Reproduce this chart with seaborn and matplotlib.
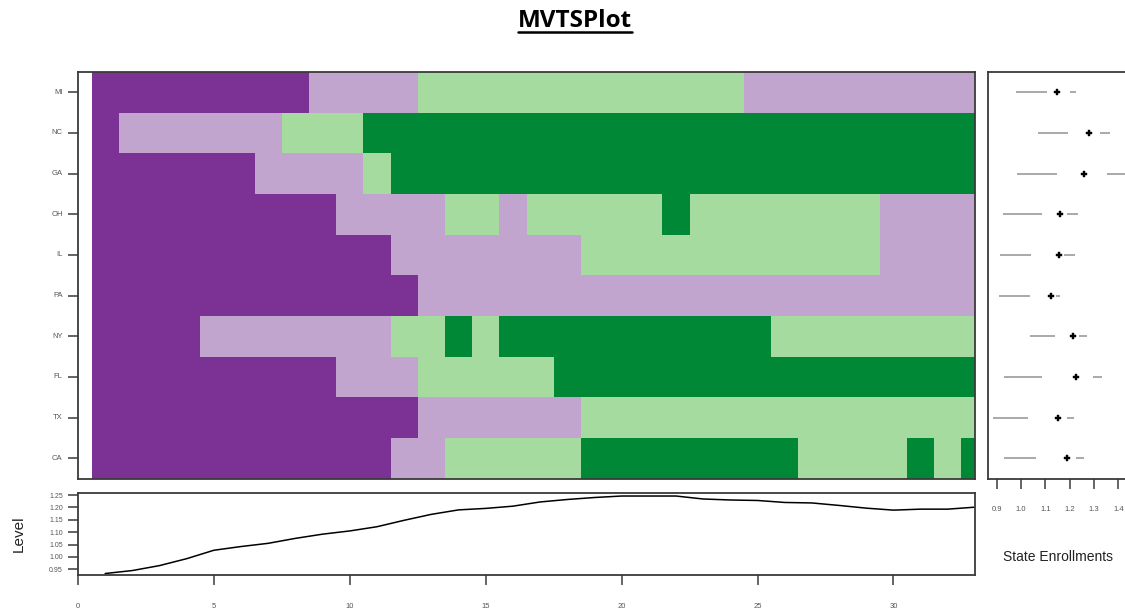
import matplotlib
matplotlib.use("Agg")
import matplotlib.pyplot as plt
from matplotlib.colors import ListedColormap
from matplotlib.lines import Line2D
import pandas as pd
import seaborn as sns

# ---- data ---------------------------------------------------------------
states = ["MI", "NC", "GA", "OH", "IL", "PA", "NY", "FL", "TX", "CA"]
time_points = list(range(1, 34))

# enrollment category per state and time step (1 = low ... 4 = high)
cat_mi = [1, 1, 1, 1, 1, 1, 1, 1, 2, 2, 2, 2, 3, 3, 3, 3, 3, 3, 3, 3, 3, 3, 3, 3,
          2, 2, 2, 2, 2, 2, 2, 2, 2]
cat_nc = [1, 2, 2, 2, 2, 2, 2, 3, 3, 3, 4, 4, 4, 4, 4, 4, 4, 4, 4, 4, 4, 4, 4, 4,
          4, 4, 4, 4, 4, 4, 4, 4, 4]
cat_ga = [1, 1, 1, 1, 1, 1, 2, 2, 2, 2, 3, 4, 4, 4, 4, 4, 4, 4, 4, 4, 4, 4, 4, 4,
          4, 4, 4, 4, 4, 4, 4, 4, 4]
cat_oh = [1, 1, 1, 1, 1, 1, 1, 1, 1, 2, 2, 2, 2, 3, 3, 2, 3, 3, 3, 3, 3, 4, 3, 3,
          3, 3, 3, 3, 3, 2, 2, 2, 2]
cat_il = [1, 1, 1, 1, 1, 1, 1, 1, 1, 1, 1, 2, 2, 2, 2, 2, 2, 2, 3, 3, 3, 3, 3, 3,
          3, 3, 3, 3, 3, 2, 2, 2, 2]
cat_pa = [1, 1, 1, 1, 1, 1, 1, 1, 1, 1, 1, 1, 2, 2, 2, 2, 2, 2, 2, 2, 2, 2, 2, 2,
          2, 2, 2, 2, 2, 2, 2, 2, 2]
cat_ny = [1, 1, 1, 1, 2, 2, 2, 2, 2, 2, 2, 3, 3, 4, 3, 4, 4, 4, 4, 4, 4, 4, 4, 4,
          4, 3, 3, 3, 3, 3, 3, 3, 3]
cat_fl = [1, 1, 1, 1, 1, 1, 1, 1, 1, 2, 2, 2, 3, 3, 3, 3, 3, 4, 4, 4, 4, 4, 4, 4,
          4, 4, 4, 4, 4, 4, 4, 4, 4]
cat_tx = [1, 1, 1, 1, 1, 1, 1, 1, 1, 1, 1, 1, 2, 2, 2, 2, 2, 2, 3, 3, 3, 3, 3, 3,
          3, 3, 3, 3, 3, 3, 3, 3, 3]
cat_ca = [1, 1, 1, 1, 1, 1, 1, 1, 1, 1, 1, 2, 2, 3, 3, 3, 3, 3, 4, 4, 4, 4, 4, 4,
          4, 4, 3, 3, 3, 3, 4, 3, 4]

# overall level across states at each time step
level = [0.933, 0.945, 0.965, 0.993, 1.027, 1.042, 1.055, 1.075, 1.092, 1.105,
         1.122, 1.148, 1.172, 1.190, 1.196, 1.205, 1.222, 1.232, 1.240, 1.246,
         1.246, 1.246, 1.234, 1.230, 1.228, 1.220, 1.218, 1.208, 1.197, 1.189,
         1.193, 1.193, 1.201]

# per-state summary: min, lower quartile, median, upper quartile, max
state_min = [0.981, 1.070, 0.982, 0.925, 0.914, 0.908, 1.036, 0.930, 0.886, 0.930]
state_q1 = [1.109, 1.193, 1.150, 1.087, 1.043, 1.036, 1.139, 1.087, 1.031, 1.060]
state_median = [1.147, 1.281, 1.259, 1.162, 1.157, 1.123, 1.214, 1.225, 1.151, 1.191]
state_q3 = [1.200, 1.323, 1.352, 1.189, 1.177, 1.144, 1.239, 1.296, 1.189, 1.228]
state_max = [1.228, 1.364, 1.430, 1.234, 1.224, 1.161, 1.273, 1.334, 1.218, 1.258]

palette = ["#7B3294", "#C2A5CF", "#A6DBA0", "#008837"]

# ---- style --------------------------------------------------------------
sns.set_theme(style="white")
plt.rcParams["font.family"] = ["Liberation Sans", "DejaVu Sans"]

W, H = 1125, 611
fig = plt.figure(figsize=(W / 100, H / 100), dpi=100)


def px_box(left, top, right, bottom):
    return [left / W, 1 - bottom / H, (right - left) / W, (bottom - top) / H]


ax_hm = fig.add_axes(px_box(78, 72, 975, 478.5))
ax_lv = fig.add_axes(px_box(78, 493.3, 975, 575))
ax_st = fig.add_axes(px_box(988.3, 72, 1131, 478.5))

spine_color = "#3a3a3a"
tick_text = "#555555"


def frame(ax):
    for sp in ax.spines.values():
        sp.set_visible(True)
        sp.set_color(spine_color)
        sp.set_linewidth(1.3)


# ---- heatmap of categories ------------------------------------------------
grid = pd.DataFrame([cat_mi, cat_nc, cat_ga, cat_oh, cat_il, cat_pa,
                     cat_ny, cat_fl, cat_tx, cat_ca],
                    index=states, columns=time_points)
sns.heatmap(grid, ax=ax_hm, cmap=ListedColormap(palette), vmin=0.5, vmax=4.5,
            cbar=False, xticklabels=False, yticklabels=states)
# columns are centred on their time step, axis spans time 0..33
ax_hm.set_xlim(-0.5, 32.5)
ax_hm.set_ylim(len(states), 0)
ax_hm.set_ylabel("")
ax_hm.set_xlabel("")
ax_hm.set_yticklabels(states, rotation=0, fontsize=5.5, color=tick_text)
ax_hm.tick_params(axis="y", left=True, length=7, width=1.1, color=spine_color, pad=4)
ax_hm.tick_params(axis="x", bottom=False)
frame(ax_hm)

# ---- level line ---------------------------------------------------------
sns.lineplot(x=time_points, y=level, ax=ax_lv, color="black", linewidth=1.1)
ax_lv.set_xlim(0, 33)
ax_lv.set_ylim(0.927, 1.257)
ax_lv.set_xticks([0, 5, 10, 15, 20, 25, 30])
ax_lv.set_xticklabels(["0", "5", "10", "15", "20", "25", "30"], fontsize=5.5, color=tick_text)
yt = [0.95, 1.00, 1.05, 1.10, 1.15, 1.20, 1.25]
ax_lv.set_yticks(yt)
ax_lv.set_yticklabels([f"{v:.2f}" for v in yt], fontsize=5, color=tick_text)
ax_lv.tick_params(axis="x", bottom=True, length=7, width=1.1, color=spine_color, pad=13)
ax_lv.tick_params(axis="y", left=True, length=7, width=1.1, color=spine_color, pad=4)
ax_lv.set_ylabel("Level", fontsize=11, color="#222222")
ax_lv.yaxis.set_label_coords(-0.058, 0.5)
frame(ax_lv)

# ---- per-state summaries ----------------------------------------------------
rows = list(range(len(states)))
ax_st.hlines(rows, state_min, state_q1, color="#a3a3a3", linewidth=1.3)
ax_st.hlines(rows, state_q3, state_max, color="#a3a3a3", linewidth=1.3)
sns.scatterplot(x=state_median, y=rows, ax=ax_st, marker="P", s=20,
                color="black", edgecolor="black", linewidth=0.3, zorder=3)
ax_st.set_xlim(0.866, 1.452)
ax_st.set_ylim(len(states) - 0.5, -0.5)
ax_st.set_yticks([])
xt = [0.9, 1.0, 1.1, 1.2, 1.3, 1.4]
ax_st.set_xticks(xt)
ax_st.set_xticklabels([f"{v:.1f}" for v in xt], fontsize=5.5, color=tick_text)
ax_st.tick_params(axis="x", bottom=True, length=7, width=1.1, color=spine_color, pad=13)
frame(ax_st)

fig.text(1058 / W, 1 - 561 / H, "State Enrollments", ha="center", va="baseline",
         fontsize=10, color="#222222")

# ---- underlined title -----------------------------------------------------
title = fig.text(575 / W, 1 - 26.7 / H, "MVTSPlot", ha="center", va="baseline",
                 fontsize=17.5, fontweight="bold", family=["Open Sans", "DejaVu Sans"],
                 color="black")
fig.canvas.draw()
bb = title.get_window_extent()
fig.add_artist(Line2D([bb.x0 / W, bb.x1 / W], [1 - 32.3 / H, 1 - 32.3 / H],
                      transform=fig.transFigure, color="black", linewidth=1.8))

fig.savefig("out.png", dpi=100)
